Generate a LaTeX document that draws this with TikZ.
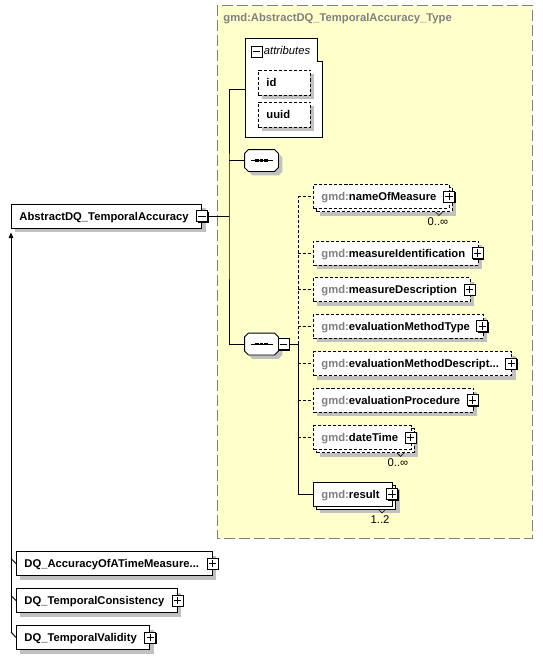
\documentclass[tikz,border=0pt]{standalone}
\usepackage{fontspec}
\setmainfont{Liberation Sans}
\usepackage{xcolor}
\usetikzlibrary{arrows.meta,positioning,calc,shadows}

\definecolor{typefill}{RGB}{255,255,204}
\definecolor{typeline}{RGB}{128,128,128}
\definecolor{shadegray}{RGB}{192,192,192}
\definecolor{prefixgray}{RGB}{128,128,128}

\newcommand{\gmd}[1]{\textcolor{prefixgray}{gmd:}#1}
% sequence compositor: chamfered outline plus the dotted line mark
\newcommand{\seqmark}[1]{%
  \draw[fill=white,shadowed] ($(#1.north west)+(4,0)$) -- ($(#1.north east)+(-4,0)$)
    -- ($(#1.north east)+(0,4)$) -- ($(#1.south east)+(0,-4)$) -- ($(#1.south east)+(-4,0)$)
    -- ($(#1.south west)+(4,0)$) -- ($(#1.south west)+(0,-4)$) -- ($(#1.north west)+(0,4)$) -- cycle;
  \draw ([xshift=-0.33cm]#1.center) -- ([xshift=0.33cm]#1.center);
  \foreach \dx in {-0.135,0,0.135}
    \fill ([xshift=\dx cm]#1.center) +(-1.6,-1.1) rectangle +(1.6,1.1);}

\begin{document}
\begin{tikzpicture}[x=0.03cm,y=-0.03cm,line width=0.8pt,
  font=\fontsize{9.6}{11}\selectfont,
  dashline/.style={dash pattern=on 2.6pt off 1.7pt},
  shadowed/.style={drop shadow={shadow xshift=0.12cm,shadow yshift=-0.12cm,fill=shadegray,opacity=1,draw=none}},
  stacked/.style={drop shadow={shadow xshift=0.21cm,shadow yshift=-0.21cm,fill=shadegray,opacity=1,draw=none},
    copy shadow={shadow xshift=0.09cm,shadow yshift=-0.09cm}},
  boxbase/.style={draw,fill=white,anchor=west,font=\fontsize{9.6}{11}\selectfont\bfseries,
    minimum height=0.72cm,inner ysep=0pt,inner xsep=0.24cm,text height=0.24cm,text depth=0cm},
  elem/.style={boxbase,shadowed,execute at end node={\hspace*{0.15cm}}},
  optelem/.style={elem,dashline},
  repelem/.style={boxbase,stacked,execute at end node={\hspace*{0.15cm}}},
  repopt/.style={repelem,dashline},
  attrbox/.style={boxbase,shadowed,dashline,text width=1.08cm,align=left,minimum height=0.75cm},
  seqbox/.style={inner sep=0pt,minimum width=0.99cm,minimum height=0.63cm},
  pmbtn/.style={draw,fill=white,minimum size=0.33cm,inner sep=0pt,
    drop shadow={shadow xshift=0.035cm,shadow yshift=-0.035cm,fill=black,opacity=1,draw=none}},
  plusbtn/.style={pmbtn,path picture={
    \draw[line width=0.6pt] ([xshift=-0.11cm]path picture bounding box.center) -- ([xshift=0.11cm]path picture bounding box.center)
      ([yshift=-0.11cm]path picture bounding box.center) -- ([yshift=0.11cm]path picture bounding box.center);}},
  minusbtn/.style={pmbtn,path picture={
    \draw[line width=0.6pt] ([xshift=-0.11cm]path picture bounding box.center) -- ([xshift=0.11cm]path picture bounding box.center);}},
  mult/.style={inner sep=0pt,font=\fontsize{9.6}{11}\selectfont}]
\useasboundingbox (0,0) rectangle (543,659);

% complex type frame
\draw[typeline,fill=typefill,dash pattern=on 9.4pt off 3.4pt] (217,5) rectangle (532,538);
\node (typename) [anchor=west,inner sep=0pt,text=typeline,font=\fontsize{9.6}{11}\selectfont\bfseries] at (223,19) {gmd:AbstractDQ\_TemporalAccuracy\_Type};

% attributes
\draw[fill=white] (245,38) -- (317,38) -- (317,61) -- (322,61) -- (322,137) -- (245,137) -- cycle;
\coordinate (attrw) at (245,89);
\node (attrpm) [minusbtn] at (256.5,51.5) {};
\node (attrlbl) [anchor=west,inner sep=0pt,font=\fontsize{9.6}{11}\selectfont\itshape] at (263.5,50) {attributes};
\node (id) [attrbox] at (258,82.5) {id};
\node (uuid) [attrbox] at (258,114.5) {uuid};

% sequences
\node (seq1) [seqbox] at (261.5,160.5) {};
\node (seq2) [seqbox] at (261.5,344) {};
\seqmark{seq1}
\seqmark{seq2}
\node (seq2pm) [minusbtn] at (283.5,344) {};

% main element
\node (main) [elem] at (11,216) {AbstractDQ\_TemporalAccuracy};
\node (mainpm) [minusbtn] at (main.east) {};

% children
\node (nom) [repopt] at (313,196.5) {\gmd{nameOfMeasure}};
\node (mid) [optelem] at (313,253) {\gmd{measureIdentification}};
\node (mdesc) [optelem] at (313,289.5) {\gmd{measureDescription}};
\node (emt) [optelem] at (313,326) {\gmd{evaluationMethodType}};
\node (emd) [optelem] at (313,363.5) {\gmd{evaluationMethodDescript...}};
\node (eproc) [optelem] at (313,400) {\gmd{evaluationProcedure}};
\node (dt) [repopt] at (313,437.5) {\gmd{dateTime}};
\node (res) [repelem] at (313,494) {\gmd{result}};
\foreach \n in {nom,mid,mdesc,emt,emd,eproc,dt,res}
  \node (\n pm) [plusbtn] at ([xshift=-0.03cm]\n.east) {};

% multiplicities
\foreach \n in {nom,dt,res}
  \draw[line width=0.5pt] ($(\n.south east)+(-14.5,3)$) -- ++(3.5,3.5) -- ++(3.5,-3.5);
\node (nommult) [mult] at (438,222) {0..∞};
\node (dtmult) [mult] at (398,463) {0..∞};
\node (resmult) [mult] at (380,520) {1..2};

% connectors
\coordinate (bus1) at (229,216);
\coordinate (bus2) at (298,344);
\draw (mainpm.east) -- (bus1);
\draw (attrw) -| (bus1) |- (seq2.west);
\draw (bus1 |- seq1.west) -- (seq1.west);
\draw (seq2pm.east) -- (bus2);
\draw[dashline] (bus2) -- (bus2 |- nom.west);
\draw (bus2) |- (res.west);
\foreach \n in {nom,mid,mdesc,emt,emd,eproc,dt}
  \draw[dashline] (bus2 |- \n.west) -- (\n.west);

% derived types
\node (acc) [elem] at (16,563.5) {DQ\_AccuracyOfATimeMeasure...};
\node (cons) [elem] at (16,600.5) {DQ\_TemporalConsistency};
\node (valid) [elem] at (16,637.5) {DQ\_TemporalValidity};
\foreach \n in {acc,cons,valid}
  \node (\n pm) [plusbtn] at (\n.east) {};
\coordinate (inhtop) at ([yshift=-0.12cm]main.south west);
\coordinate (inhbot) at (inhtop |- 0,632);
\draw[-{Triangle[width=0.14cm,length=0.17cm]}] (inhbot) -- (inhtop);
\draw (inhbot) -- (valid.west);
\draw (acc.west) -- ++(-5,-5);
\draw (cons.west) -- ++(-5,-5);
\end{tikzpicture}
\end{document}
